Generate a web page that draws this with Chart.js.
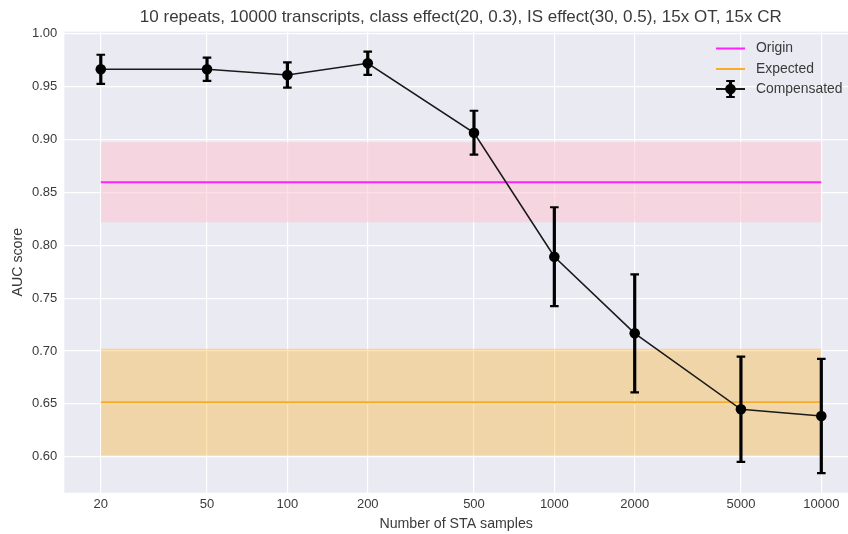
<!DOCTYPE html>
<html>
<head>
<meta charset="utf-8">
<script src="https://cdn.jsdelivr.net/npm/chart.js@4.4.1/dist/chart.umd.min.js"></script>
<style>
  html, body { margin: 0; padding: 0; background: #ffffff; }
  #wrap { width: 848px; height: 534px; }
</style>
</head>
<body>
<div id="wrap"><canvas id="chart" width="848" height="534"></canvas></div>
<script>
// Number of STA samples on the x axis (log scale)
const sampleSizes = [20, 50, 100, 200, 500, 1000, 2000, 5000, 10000];
// Compensated AUC: mean and error bar half-length
const compensatedMean = [0.9665, 0.9665, 0.9611, 0.9722, 0.9065, 0.7892, 0.7167, 0.6448, 0.6385];
const compensatedErr  = [0.0138, 0.0110, 0.0120, 0.0110, 0.0208, 0.0468, 0.0558, 0.0498, 0.0540];
// Reference levels with their spread
const originMean = 0.8596, originErr = 0.0378;
const expectedMean = 0.6515, expectedErr = 0.0505;
// Tick labels
const yTicks = [0.60, 0.65, 0.70, 0.75, 0.80, 0.85, 0.90, 0.95, 1.00];
const seriesNames = ['Origin', 'Expected', 'Compensated'];
const chartTitle = '10 repeats, 10000 transcripts, class effect(20, 0.3), IS effect(30, 0.5), 15x OT, 15x CR';

const FONT = "'Liberation Sans', Arial, sans-serif";
const TEXT = '#3a3a3a';
const xFirst = sampleSizes[0], xLast = sampleSizes[sampleSizes.length - 1];
// Full x extent of the axes (the right part runs past the canvas edge)
const xAxisMin = 14.6, xAxisFullMax = 13646, xVisibleMax = 12590;

function flat(y) { return [{ x: xFirst, y: y }, { x: xLast, y: y }]; }

const COMP_INDEX = 6;

// Error bars for the compensated series, drawn under its line and markers
const errorBars = {
  id: 'errorBars',
  beforeDatasetDraw(chart, args) {
    if (args.index !== COMP_INDEX) return;
    const { ctx, scales: { x, y } } = chart;
    ctx.save();
    ctx.strokeStyle = '#000000';
    sampleSizes.forEach((s, i) => {
      const px = x.getPixelForValue(s);
      const top = y.getPixelForValue(compensatedMean[i] + compensatedErr[i]);
      const bot = y.getPixelForValue(compensatedMean[i] - compensatedErr[i]);
      ctx.lineWidth = 3.2;
      ctx.beginPath(); ctx.moveTo(px, top); ctx.lineTo(px, bot); ctx.stroke();
      ctx.lineWidth = 2.2;
      ctx.beginPath();
      ctx.moveTo(px - 4.3, top); ctx.lineTo(px + 4.3, top);
      ctx.moveTo(px - 4.3, bot); ctx.lineTo(px + 4.3, bot);
      ctx.stroke();
    });
    ctx.restore();
  }
};

// Title centred over the full axes width
const titleText = {
  id: 'titleText',
  afterDraw(chart) {
    const { ctx, chartArea: a, scales: { x } } = chart;
    const cx = (a.left + x.getPixelForValue(xAxisFullMax)) / 2;
    ctx.save();
    ctx.fillStyle = TEXT;
    ctx.font = '17px ' + FONT;
    ctx.textAlign = 'center';
    ctx.textBaseline = 'middle';
    ctx.fillText(chartTitle, cx, 17);
    ctx.restore();
  }
};

// Frameless legend in the upper right of the plot
const legendBox = {
  id: 'legendBox',
  afterDraw(chart) {
    const ctx = chart.ctx;
    const x0 = 716, x1 = 745, tx = 756;
    const rows = [48.5, 69, 89];
    const colors = ['#ff22ff', '#f9ab2a', '#1a1a1a'];
    ctx.save();
    rows.forEach((ry, i) => {
      ctx.strokeStyle = colors[i];
      ctx.lineWidth = 2;
      ctx.beginPath(); ctx.moveTo(x0, ry); ctx.lineTo(x1, ry); ctx.stroke();
      if (i === 2) {
        const cx = (x0 + x1) / 2;
        ctx.strokeStyle = '#000';
        ctx.lineWidth = 3.2;
        ctx.beginPath(); ctx.moveTo(cx, ry - 8); ctx.lineTo(cx, ry + 8); ctx.stroke();
        ctx.lineWidth = 2.2;
        ctx.beginPath();
        ctx.moveTo(cx - 4.3, ry - 8); ctx.lineTo(cx + 4.3, ry - 8);
        ctx.moveTo(cx - 4.3, ry + 8); ctx.lineTo(cx + 4.3, ry + 8);
        ctx.stroke();
        ctx.fillStyle = '#000';
        ctx.beginPath(); ctx.arc(cx, ry, 5.3, 0, Math.PI * 2); ctx.fill();
      }
      ctx.fillStyle = TEXT;
      ctx.font = '13.9px ' + FONT;
      ctx.textBaseline = 'middle';
      ctx.textAlign = 'left';
      ctx.fillText(seriesNames[i], tx, ry);
    });
    ctx.restore();
  }
};

// Axes background
const plotBg = {
  id: 'plotBg',
  beforeDraw(chart) {
    const { ctx, chartArea: a } = chart;
    ctx.save();
    ctx.fillStyle = '#eaeaf2';
    ctx.fillRect(a.left, a.top, a.right - a.left, a.bottom - a.top);
    ctx.restore();
  }
};

const bandLine = { borderWidth: 0, pointRadius: 0, pointHoverRadius: 0, tension: 0 };

new Chart(document.getElementById('chart'), {
  type: 'line',
  data: {
    datasets: [
      Object.assign({ label: 'origin-hi', data: flat(originMean + originErr), fill: '+1',
        backgroundColor: 'rgba(255,192,203,0.5)', borderColor: 'rgba(0,0,0,0)', order: 5 }, bandLine),
      Object.assign({ label: 'origin-lo', data: flat(originMean - originErr), fill: false,
        borderColor: 'rgba(0,0,0,0)', order: 5 }, bandLine),
      Object.assign({ label: 'expected-hi', data: flat(expectedMean + expectedErr), fill: '+1',
        backgroundColor: 'rgba(255,165,0,0.3)', borderColor: 'rgba(0,0,0,0)', order: 5 }, bandLine),
      Object.assign({ label: 'expected-lo', data: flat(expectedMean - expectedErr), fill: false,
        borderColor: 'rgba(0,0,0,0)', order: 5 }, bandLine),
      { label: seriesNames[0], data: flat(originMean), borderColor: '#ff22ff', borderWidth: 2,
        pointRadius: 0, fill: false, order: 3 },
      { label: seriesNames[1], data: flat(expectedMean), borderColor: '#f9ab2a', borderWidth: 2,
        pointRadius: 0, fill: false, order: 3 },
      { label: seriesNames[2], data: sampleSizes.map((s, i) => ({ x: s, y: compensatedMean[i] })),
        borderColor: '#1a1a1a', borderWidth: 1.6, pointRadius: 5.3, pointBackgroundColor: '#000',
        pointBorderWidth: 0, fill: false, order: 1, tension: 0 }
    ]
  },
  options: {
    responsive: false,
    animation: false,
    devicePixelRatio: 1,
    events: [],
    layout: { autoPadding: false, padding: { left: 0, right: 0, top: 31.7, bottom: 0 } },
    plugins: {
      legend: { display: false },
      tooltip: { enabled: false },
      title: { display: false }
    },
    scales: {
      x: {
        type: 'logarithmic', min: xAxisMin, max: xVisibleMax,
        afterBuildTicks(s) { s.ticks = sampleSizes.map(v => ({ value: v })); },
        afterFit(s) { s.height = 41.3; s.paddingLeft = 0; s.paddingRight = 0; },
        grid: { color: '#ffffff', lineWidth: 1.2, drawTicks: false },
        border: { display: false },
        ticks: { color: TEXT, font: { family: FONT, size: 13 }, padding: 4, maxRotation: 0,
          autoSkip: false, callback: v => String(v) },
        title: { display: true, text: 'Number of STA samples', color: TEXT,
          font: { family: FONT, size: 14.2 }, padding: { top: 0, bottom: 1.5 } }
      },
      y: {
        min: 0.5659, max: 1.0021,
        afterBuildTicks(s) { s.ticks = yTicks.map(v => ({ value: v })); },
        afterFit(s) { s.width = 64.3; s.paddingTop = 0; s.paddingBottom = 0; },
        grid: { color: '#ffffff', lineWidth: 1.2, drawTicks: false },
        border: { display: false },
        ticks: { color: TEXT, font: { family: FONT, size: 13 }, padding: 7,
          callback: v => Number(v).toFixed(2) },
        title: { display: true, text: 'AUC score', color: TEXT,
          font: { family: FONT, size: 14.2 }, padding: { top: 10, bottom: 0 } }
      }
    }
  },
  plugins: [plotBg, errorBars, titleText, legendBox]
});
</script>
</body>
</html>
